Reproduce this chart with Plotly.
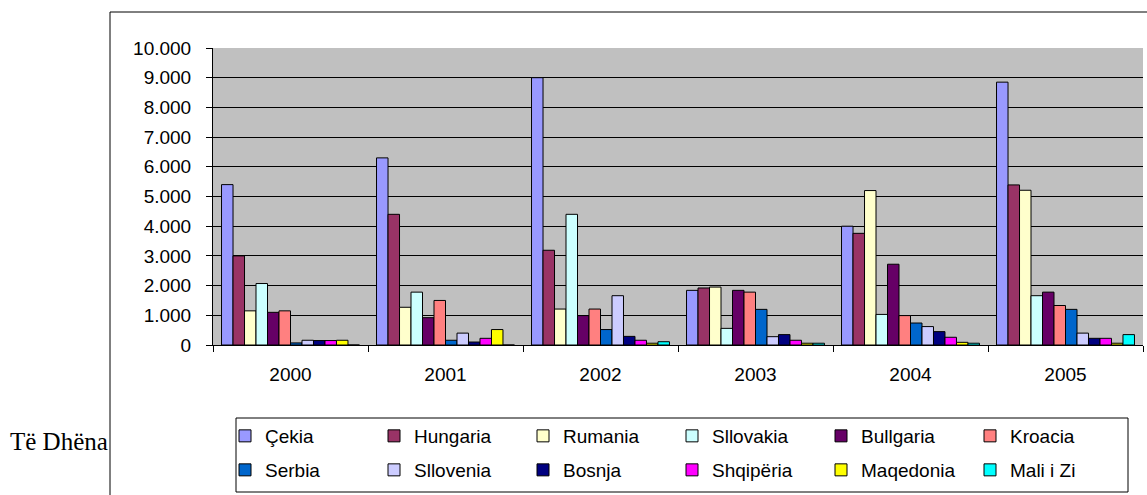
import plotly.graph_objects as go

years = ["2000", "2001", "2002", "2003", "2004", "2005"]

countries = ["Çekia", "Hungaria", "Rumania", "Sllovakia", "Bullgaria", "Kroacia",
             "Serbia", "Sllovenia", "Bosnja", "Shqipëria", "Maqedonia", "Mali i Zi"]

cekia = [5400, 6300, 9000, 1840, 4000, 8850]
hungaria = [3000, 4400, 3190, 1920, 3760, 5390]
rumania = [1150, 1270, 1210, 1950, 5200, 5210]
sllovakia = [2070, 1780, 4400, 560, 1030, 1660]
bullgaria = [1100, 920, 990, 1840, 2720, 1780]
kroacia = [1150, 1500, 1210, 1780, 990, 1330]
serbia = [70, 160, 520, 1200, 740, 1200]
sllovenia = [160, 400, 1660, 280, 620, 400]
bosnja = [150, 100, 290, 350, 450, 225]
shqiperia = [150, 225, 160, 160, 260, 225]
maqedonia = [160, 520, 60, 60, 90, 60]
mali_i_zi = [0, 0, 110, 60, 60, 350]

series = [cekia, hungaria, rumania, sllovakia, bullgaria, kroacia,
          serbia, sllovenia, bosnja, shqiperia, maqedonia, mali_i_zi]

colors = ["#9999FF", "#993366", "#FFFFCC", "#CCFFFF", "#660066", "#FF8080",
          "#0066CC", "#CCCCFF", "#000080", "#FF00FF", "#FFFF00", "#00FFFF"]

W, H = 1147, 495
ML, MR, MT, MB = 213, 4, 48, 150
PW, PH = W - ML - MR, H - MT - MB


def px_x(p):
    return (p - ML) / PW


def px_y(p):
    return (H - MB - p) / PH


fig = go.Figure()
for i, (name, vals, col) in enumerate(zip(countries, series, colors)):
    fig.add_trace(go.Bar(
        x=years, y=vals, name=name,
        marker=dict(color=col, line=dict(color="black", width=1)),
        legend="legend" if i < 6 else "legend2",
    ))

font = dict(family="Liberation Sans, Arial, sans-serif", size=19, color="black")

legend_common = dict(
    orientation="h", xanchor="left", yanchor="middle",
    entrywidth=104, entrywidthmode="pixels",
    font=font, bgcolor="rgba(0,0,0,0)", borderwidth=0,
    itemclick=False, itemdoubleclick=False, traceorder="normal",
)

fig.update_layout(
    width=W, height=H,
    margin=dict(l=ML, r=MR, t=MT, b=MB, pad=0),
    paper_bgcolor="white",
    plot_bgcolor="#C0C0C0",
    barmode="group",
    bargap=0.11,
    bargroupgap=0,
    separators=",.",
    font=font,
    showlegend=True,
    legend=dict(x=px_x(225), y=px_y(436), **legend_common),
    legend2=dict(x=px_x(225), y=px_y(470), **legend_common),
    xaxis=dict(
        type="category", showline=True, linecolor="black", linewidth=1,
        ticks="outside", tickson="boundaries", ticklen=6, tickcolor="black",
        showgrid=False, tickfont=font, ticklabelstandoff=12,
    ),
    yaxis=dict(
        range=[0, 10000], dtick=1000, tickformat=",d",
        showline=True, linecolor="black", linewidth=1,
        ticks="outside", ticklen=6, tickcolor="black",
        showgrid=True, gridcolor="black", gridwidth=1,
        zeroline=False, tickfont=font, ticklabelstandoff=11,
    ),
    shapes=[
        # outer chart frame
        dict(type="rect", xref="paper", yref="paper",
             x0=px_x(110), x1=px_x(W + 20), y0=px_y(H + 20), y1=px_y(12),
             line=dict(color="black", width=1), fillcolor="rgba(0,0,0,0)",
             layer="above"),
        # legend frame
        dict(type="rect", xref="paper", yref="paper",
             x0=px_x(236), x1=px_x(1128), y0=px_y(492), y1=px_y(418),
             line=dict(color="black", width=1), fillcolor="rgba(0,0,0,0)",
             layer="above"),
    ],
    annotations=[
        dict(text="Të Dhëna", xref="paper", yref="paper",
             x=px_x(8), y=px_y(441), xanchor="left", yanchor="middle",
             showarrow=False,
             font=dict(family="Liberation Serif, Times New Roman, serif",
                       size=25, color="black")),
    ],
)

fig.write_html("out.html")
